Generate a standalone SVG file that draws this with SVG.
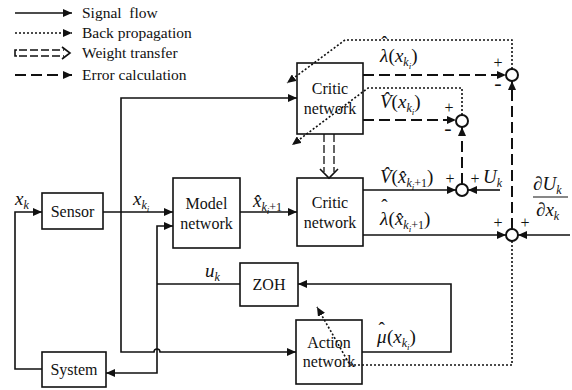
<svg xmlns="http://www.w3.org/2000/svg" width="572" height="390" viewBox="0 0 572 390" font-family="Liberation Serif">
<style>
text{font-family:'Liberation Serif',serif;fill:#111}
.lg{font-size:15.5px;white-space:pre}
.bx{font-size:16px;text-anchor:middle}
.m{font-size:19px;font-style:italic}
.u{font-style:normal}
.sg{font-size:16px;text-anchor:middle}
.mn{font-size:22px;text-anchor:middle}
rect{fill:#fff;stroke:#111;stroke-width:1.6}
.s{fill:none;stroke:#111;stroke-width:1.6}
.d{fill:none;stroke:#111;stroke-width:2;stroke-dasharray:11 5}
.p{fill:none;stroke:#111;stroke-width:1.6;stroke-dasharray:2 2}
.w{fill:none;stroke:#111;stroke-width:1.3;stroke-dasharray:8 3}
circle{fill:#fff;stroke:#111;stroke-width:2}
</style>
<defs>
<marker id="a" markerUnits="userSpaceOnUse" markerWidth="10" markerHeight="8" refX="9" refY="4" orient="auto"><path d="M0,0 L9,4 L0,8 Z" fill="#111"/></marker>
</defs>
<g id="legend">
<line class="s" x1="15" y1="13" x2="72" y2="13" marker-end="url(#a)"/>
<text class="lg" x="82" y="18">Signal  flow</text>
<line class="p" x1="15" y1="33" x2="72" y2="33" marker-end="url(#a)"/>
<text class="lg" x="82" y="38">Back propagation</text>
<path class="s" d="M17,50 L15,50 L15,56 L17,56" stroke-width="1.3"/>
<line class="w" x1="19" y1="50" x2="64" y2="50"/>
<line class="w" x1="19" y1="56" x2="64" y2="56"/>
<path class="s" d="M62,47 L70,53 L62,59" stroke-width="1.3"/>
<text class="lg" x="82" y="58">Weight transfer</text>
<line class="d" x1="15" y1="75" x2="72" y2="75" marker-end="url(#a)"/>
<text class="lg" x="82" y="80">Error calculation</text>
</g>

<g id="sum1"><circle cx="512" cy="75" r="6"/><text class="sg" x="498" y="68">+</text><text class="mn" x="498" y="90">-</text></g>
<g id="sum2"><circle cx="462" cy="121" r="6"/><text class="sg" x="449" y="113">+</text><text class="mn" x="448" y="135">-</text></g>
<g id="sum3"><circle cx="462" cy="190" r="6"/><text class="sg" x="450" y="184">+</text><text class="sg" x="475" y="184">+</text></g>
<g id="sum4"><circle cx="512" cy="235" r="6"/><text class="sg" x="498" y="228">+</text><text class="sg" x="525" y="228">+</text></g>

<g id="critic-top"><rect x="297" y="63" width="66" height="71"/><text class="bx" x="330" y="94">Critic</text><text class="bx" x="330" y="114">network</text></g>
<g id="critic-bottom"><rect x="297" y="178" width="66" height="68"/><text class="bx" x="330" y="208">Critic</text><text class="bx" x="330" y="228">network</text></g>
<g id="sensor"><rect x="42" y="193" width="61" height="36"/><text class="bx" x="72.5" y="217">Sensor</text></g>
<g id="model"><rect x="173" y="178" width="67" height="70"/><text class="bx" x="206.5" y="209">Model</text><text class="bx" x="206.5" y="229">network</text></g>
<g id="zoh"><rect x="240" y="263" width="58" height="43"/><text class="bx" x="269" y="290">ZOH</text></g>
<g id="system"><rect x="42" y="352" width="64" height="35"/><text class="bx" x="74" y="375">System</text></g>
<g id="action"><rect x="296" y="320" width="66" height="64"/><text class="bx" x="329" y="348">Action</text><text class="bx" x="329" y="367">network</text></g>

<g id="connectors">
<path class="s" d="M42,369 L15,369 L15,212 L42,212" marker-end="url(#a)"/>
<line class="s" x1="103" y1="212" x2="173" y2="212" marker-end="url(#a)"/>
<path class="s" d="M121,212 L121,98 L297,98" marker-end="url(#a)"/>
<path class="s" d="M121,212 L121,352 L154,352 A3,3 0 0 1 160,352 L296,352" marker-end="url(#a)"/>
<line class="s" x1="240" y1="212" x2="297" y2="212" marker-end="url(#a)"/>
<path class="s" d="M240,284 L157,284"/>
<path class="s" d="M157,284 L157,226 L173,226" marker-end="url(#a)"/>
<path class="s" d="M157,284 L157,373 L106,373" marker-end="url(#a)"/>
<path class="s" d="M362,352 L451,352 L451,284 L298,284" marker-end="url(#a)"/>
<line class="s" x1="363" y1="190" x2="456" y2="190" marker-end="url(#a)"/>
<line class="s" x1="500" y1="190" x2="468" y2="190" marker-end="url(#a)"/>
<line class="s" x1="363" y1="235" x2="506" y2="235" marker-end="url(#a)"/>
<line class="s" x1="570" y1="235" x2="518" y2="235" marker-end="url(#a)"/>
<line class="d" x1="363" y1="75" x2="506" y2="75" marker-end="url(#a)"/>
<line class="d" x1="363" y1="120" x2="456" y2="120" marker-end="url(#a)"/>
<line class="d" x1="462" y1="184" x2="462" y2="127" marker-end="url(#a)"/>
<line class="d" x1="512" y1="229" x2="512" y2="81" marker-end="url(#a)"/>
<path class="p" d="M512,69 L512,40 L345,40 L287,83" marker-end="url(#a)"/>
<path class="p" d="M462,115 L462,88 L368,88 L292,145" marker-end="url(#a)"/>
<path class="p" d="M512,241 L512,365 L350,365 L317,307" marker-end="url(#a)"/>
<line class="w" x1="324" y1="134" x2="324" y2="172"/>
<line class="w" x1="334" y1="134" x2="334" y2="172"/>
<path class="s" d="M320,169 L329,178 L338,169" stroke-width="1.3"/>
</g>

<g id="labels">
<text class="m" x="380" y="62">λ<tspan class="u" dx="-7" dy="-13">ˆ</tspan><tspan class="u" dx="1" dy="13">(</tspan>x<tspan font-size="12" dy="4">k</tspan><tspan font-size="9" dy="3">i</tspan><tspan class="u" dy="-7">)</tspan></text>
<text class="m" x="380" y="108">V̂<tspan class="u">(</tspan>x<tspan font-size="12" dy="4">k</tspan><tspan font-size="9" dy="3">i</tspan><tspan class="u" dy="-7">)</tspan></text>
<text class="m" x="380" y="183">V̂<tspan class="u">(</tspan>x̂<tspan font-size="12" dy="4">k</tspan><tspan font-size="9" dy="3">i</tspan><tspan class="u" font-size="12" dy="-3">+1</tspan><tspan class="u" dy="-4">)</tspan></text>
<text class="m" x="380" y="225">λ<tspan class="u" dx="-7" dy="-13">ˆ</tspan><tspan class="u" dx="1" dy="13">(</tspan>x̂<tspan font-size="12" dy="4">k</tspan><tspan font-size="9" dy="3">i</tspan><tspan class="u" font-size="12" dy="-3">+1</tspan><tspan class="u" dy="-4">)</tspan></text>
<text class="m" x="377" y="343">μ<tspan class="u" dx="-8" dy="-8">ˆ</tspan><tspan class="u" dx="2" dy="8">(</tspan>x<tspan font-size="12" dy="4">k</tspan><tspan font-size="9" dy="3">i</tspan><tspan class="u" dy="-7">)</tspan></text>
<text class="m" x="253" y="207">x̂<tspan font-size="12" dy="4">k</tspan><tspan font-size="9" dy="3">i</tspan><tspan class="u" font-size="12" dy="-3">+1</tspan></text>
<text class="m" x="133" y="205">x<tspan font-size="12" dy="4">k</tspan><tspan font-size="9" dy="3">i</tspan></text>
<text class="m" x="15" y="205">x<tspan font-size="12" dy="4">k</tspan></text>
<text class="m" x="205" y="277">u<tspan font-size="12" dy="4">k</tspan></text>
<text class="m" x="483" y="183">U<tspan font-size="12" dy="4">k</tspan></text>
<text class="m" x="533" y="190">∂U<tspan font-size="12" dy="4">k</tspan></text>
<line x1="533" y1="197" x2="568" y2="197" stroke="#111" stroke-width="1.2"/>
<text class="m" x="536" y="216">∂x<tspan font-size="12" dy="4">k</tspan></text>
</g>
</svg>
